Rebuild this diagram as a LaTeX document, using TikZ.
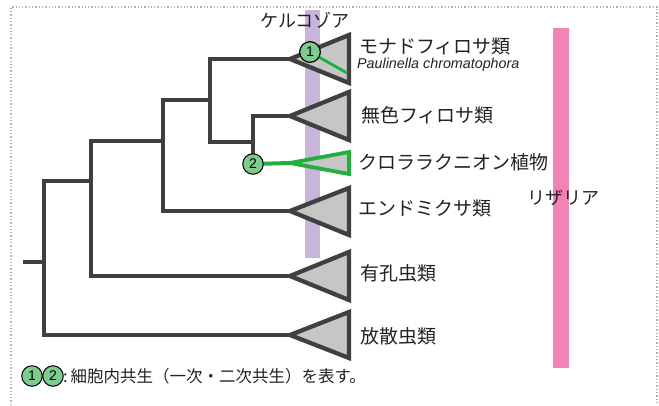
\documentclass[tikz,border=0pt]{standalone}
\usepackage{fontspec}
\setmainfont{Liberation Sans}
\newfontfamily\jp{Noto Sans CJK JP}
\definecolor{treegray}{HTML}{404040}
\definecolor{trifill}{HTML}{C6C6C6}
\definecolor{endogreen}{HTML}{22B03C}
\definecolor{circgreen}{HTML}{7DCB8E}
\definecolor{cercopurple}{HTML}{C9B5DA}
\definecolor{rhizpink}{HTML}{F283B5}
\definecolor{textdark}{HTML}{222222}
\tikzset{
  tree/.style={draw=treegray, line width=4.3pt, line join=miter, line cap=butt},
  clade/.style={draw=treegray, fill=trifill, line width=4.3pt, line join=miter, miter limit=20},
  gclade/.style={draw=endogreen, fill=trifill, line width=3.8pt, line join=miter, miter limit=20},
  gline/.style={draw=endogreen, line width=4pt},
  evt/.style={circle, draw=black, line width=1pt, fill=circgreen, minimum size=20.5pt, inner sep=0pt, font=\fontsize{14}{14}\selectfont},
  lab/.style={anchor=west, inner sep=0pt, text=textdark, font=\jp\fontsize{19}{21}\selectfont},
  frame/.style={draw=gray!60, line width=1.3pt, dash pattern=on 1.3pt off 2pt}
}
\begin{document}
\begin{tikzpicture}[x=1pt, y=-1pt]
\useasboundingbox (0,0) rectangle (659,405);
% frame
\draw[frame] (11,405) -- (11,7) -- (657,7) -- (657,405);
% bands
\fill[cercopurple] (305,10) rectangle (320,258);
\fill[rhizpink] (553,28) rectangle (569,368);
% coordinates
\coordinate (root) at (23,262);
\coordinate (A) at (44,262);
\coordinate (aTop) at (44,181);
\coordinate (bJ) at (91,181);
\coordinate (bTop) at (91,141);
\coordinate (cJ) at (163,141);
\coordinate (cTop) at (163,100);
\coordinate (dJ) at (210,100);
\coordinate (dBot) at (210,142);
\coordinate (eJ) at (252,142);
\coordinate (tMon) at (290,59);
\coordinate (tMu) at (290,116);
\coordinate (tChl) at (290,163);
\coordinate (tEnd) at (290,211);
\coordinate (tFor) at (290,276);
\coordinate (tRad) at (290,335);
\coordinate (c2pos) at (253,164);
% tree
\draw[tree] (root) -- (A);
\draw[tree] (tRad) -| (aTop) -- (bJ);
\draw[tree] (tFor) -| (bTop) -- (cJ);
\draw[tree] (tEnd) -| (cTop) -- (dJ);
\draw[tree] (tMon) -| (dBot) -- (eJ);
\draw[tree] (tMu) -| (c2pos);
% clades
\draw[clade] (tMon) -- (349,35) -- (349,83) -- cycle;
\draw[clade] (tMu) -- (349,92) -- (349,140) -- cycle;
\draw[clade] (tEnd) -- (349,188) -- (349,235) -- cycle;
\draw[clade] (tFor) -- (349,252) -- (349,300) -- cycle;
\draw[clade] (tRad) -- (349,312) -- (349,358) -- cycle;
\draw[gclade] (tChl) -- (349,152) -- (349,174) -- cycle;
\draw[gline] (c2pos) -- (tChl);
\coordinate (pEnd) at (347,73);
\node[evt] (e1) at (310,52) {};
\draw[endogreen, line width=2.8pt] (e1.center) -- (pEnd);
\node[evt] at (e1) {1};
\node[evt] (e2) at (c2pos) {2};
% labels
\node[lab] (lMon) at (359,46) {モナドフィロサ類};
\node[anchor=west, inner sep=0pt, text=textdark, font=\itshape\fontsize{14.3}{15}\selectfont] (lPaul) at (357,65) {Paulinella chromatophora};
\node[lab] (lMu) at (361,115) {無色フィロサ類};
\node[lab] (lChl) at (358,162) {クロララクニオン植物};
\node[lab] (lEnd) at (358,208) {エンドミクサ類};
\node[lab] (lFor) at (360,273) {有孔虫類};
\node[lab] (lRad) at (360,336) {放散虫類};
\node[text=textdark, inner sep=0pt, font=\jp\fontsize{18}{20}\selectfont] (lCer) at (305,20) {ケルコゾア};
\node[text=textdark, inner sep=0pt, font=\jp\fontsize{18}{20}\selectfont] (lRhi) at (563,198) {リザリア};
% legend
\node[evt] (k1) at (32,376) {1};
\node[evt] (k2) at (53,376) {2};
\node[anchor=west, inner sep=0pt, text=textdark, font=\jp\fontsize{16.5}{18}\selectfont] (lLeg) at (63,376) {:\,細胞内共生（一次・二次共生）を表す。};
\end{tikzpicture}
\end{document}
